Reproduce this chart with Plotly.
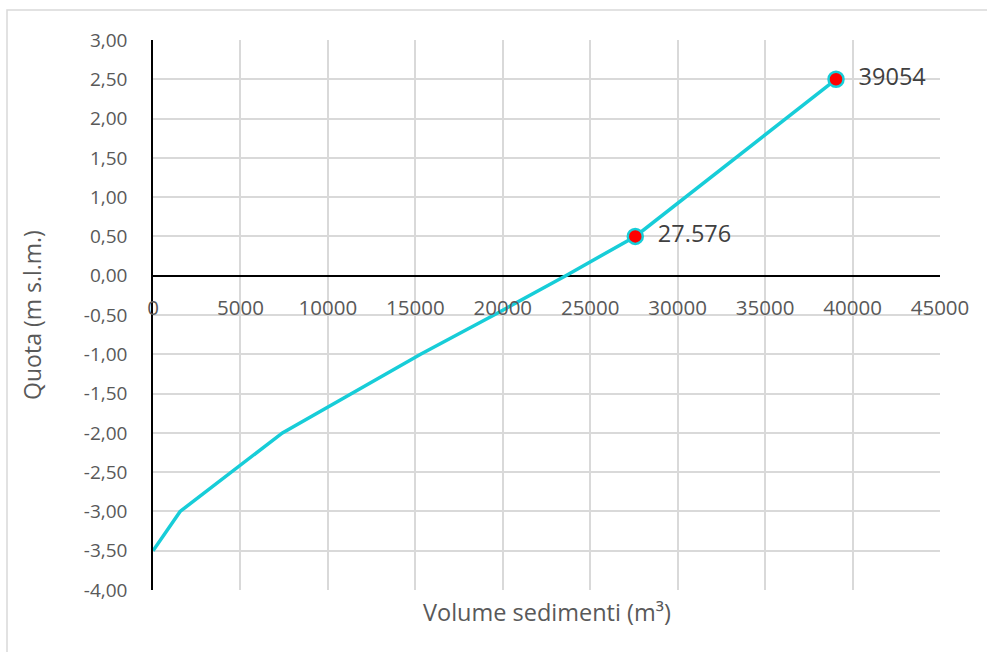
import plotly.graph_objects as go

# Stage-volume curve: sediment volume (m³) vs elevation (m s.l.m.)
volume = [0, 1550, 7400, 11350, 15300, 19500, 23600, 27576, 39054]
quota = [-3.5, -3.0, -2.0, -1.5, -1.0, -0.5, 0.0, 0.5, 2.5]

# Highlighted points with their labels
mark_volume = [27576, 39054]
mark_quota = [0.5, 2.5]
mark_labels = ["27.576", "39054"]

x_ticks = [0, 5000, 10000, 15000, 20000, 25000, 30000, 35000, 40000, 45000]
y_ticks = [3.0, 2.5, 2.0, 1.5, 1.0, 0.5, 0.0, -0.5, -1.0, -1.5, -2.0, -2.5,
           -3.0, -3.5, -4.0]
y_ticktext = [f"{v:.2f}".replace(".", ",") for v in y_ticks]

FONT = "Open Sans"
TXT = "#595959"
CYAN = "#17CDD8"
GRID = "#D9D9D9"

fig = go.Figure()

fig.add_trace(go.Scatter(
    x=volume, y=quota, mode="lines",
    line=dict(color=CYAN, width=3.5),
    hoverinfo="skip", showlegend=False,
))

fig.add_trace(go.Scatter(
    x=mark_volume, y=mark_quota, mode="markers+text",
    marker=dict(color="#FF0000", size=15, line=dict(color=CYAN, width=2.5)),
    text=["  " + t for t in mark_labels], textposition="middle right",
    textfont=dict(family=FONT, size=23.5, color="#404040"),
    showlegend=False,
))

fig.update_layout(
    width=987, height=652,
    margin=dict(l=153, r=47, t=40, b=62),
    paper_bgcolor="white", plot_bgcolor="white",
    font=dict(family=FONT, size=19, color=TXT),
    xaxis=dict(
        range=[0, 45000], tickmode="array", tickvals=x_ticks,
        ticktext=[str(v) for v in x_ticks],
        showgrid=True, gridcolor=GRID, gridwidth=1.5,
        zeroline=False, showline=False,
        anchor="free", position=4 / 7,
        ticks="", ticklabelstandoff=18,
        tickfont=dict(family=FONT, size=20.5, color=TXT),
    ),
    yaxis=dict(
        range=[-4, 3], tickmode="array", tickvals=y_ticks, ticktext=y_ticktext,
        showgrid=True, gridcolor=GRID, gridwidth=1.5,
        zeroline=True, zerolinecolor="black", zerolinewidth=1.5,
        showline=True, linecolor="black", linewidth=1.5,
        ticks="", ticklabelstandoff=20,
        tickfont=dict(family=FONT, size=19, color=TXT),
        title=dict(text="Quota (m s.l.m.)", standoff=36,
                   font=dict(family=FONT, size=23, color=TXT)),
    ),
    annotations=[dict(
        text="Volume sedimenti (m³)", xref="paper", yref="paper",
        x=0.5, y=-0.008, xanchor="center", yanchor="top", showarrow=False,
        font=dict(family=FONT, size=23.5, color=TXT),
    )],
    shapes=[dict(
        type="rect", xref="paper", yref="paper",
        x0=(7 - 153) / 787, x1=(990 - 153) / 787,
        y0=(590 - 660) / 550, y1=(590 - 10) / 550,
        line=dict(color="#D9D9D9", width=1.5), layer="below",
    )],
)

fig.write_html("out.html")
